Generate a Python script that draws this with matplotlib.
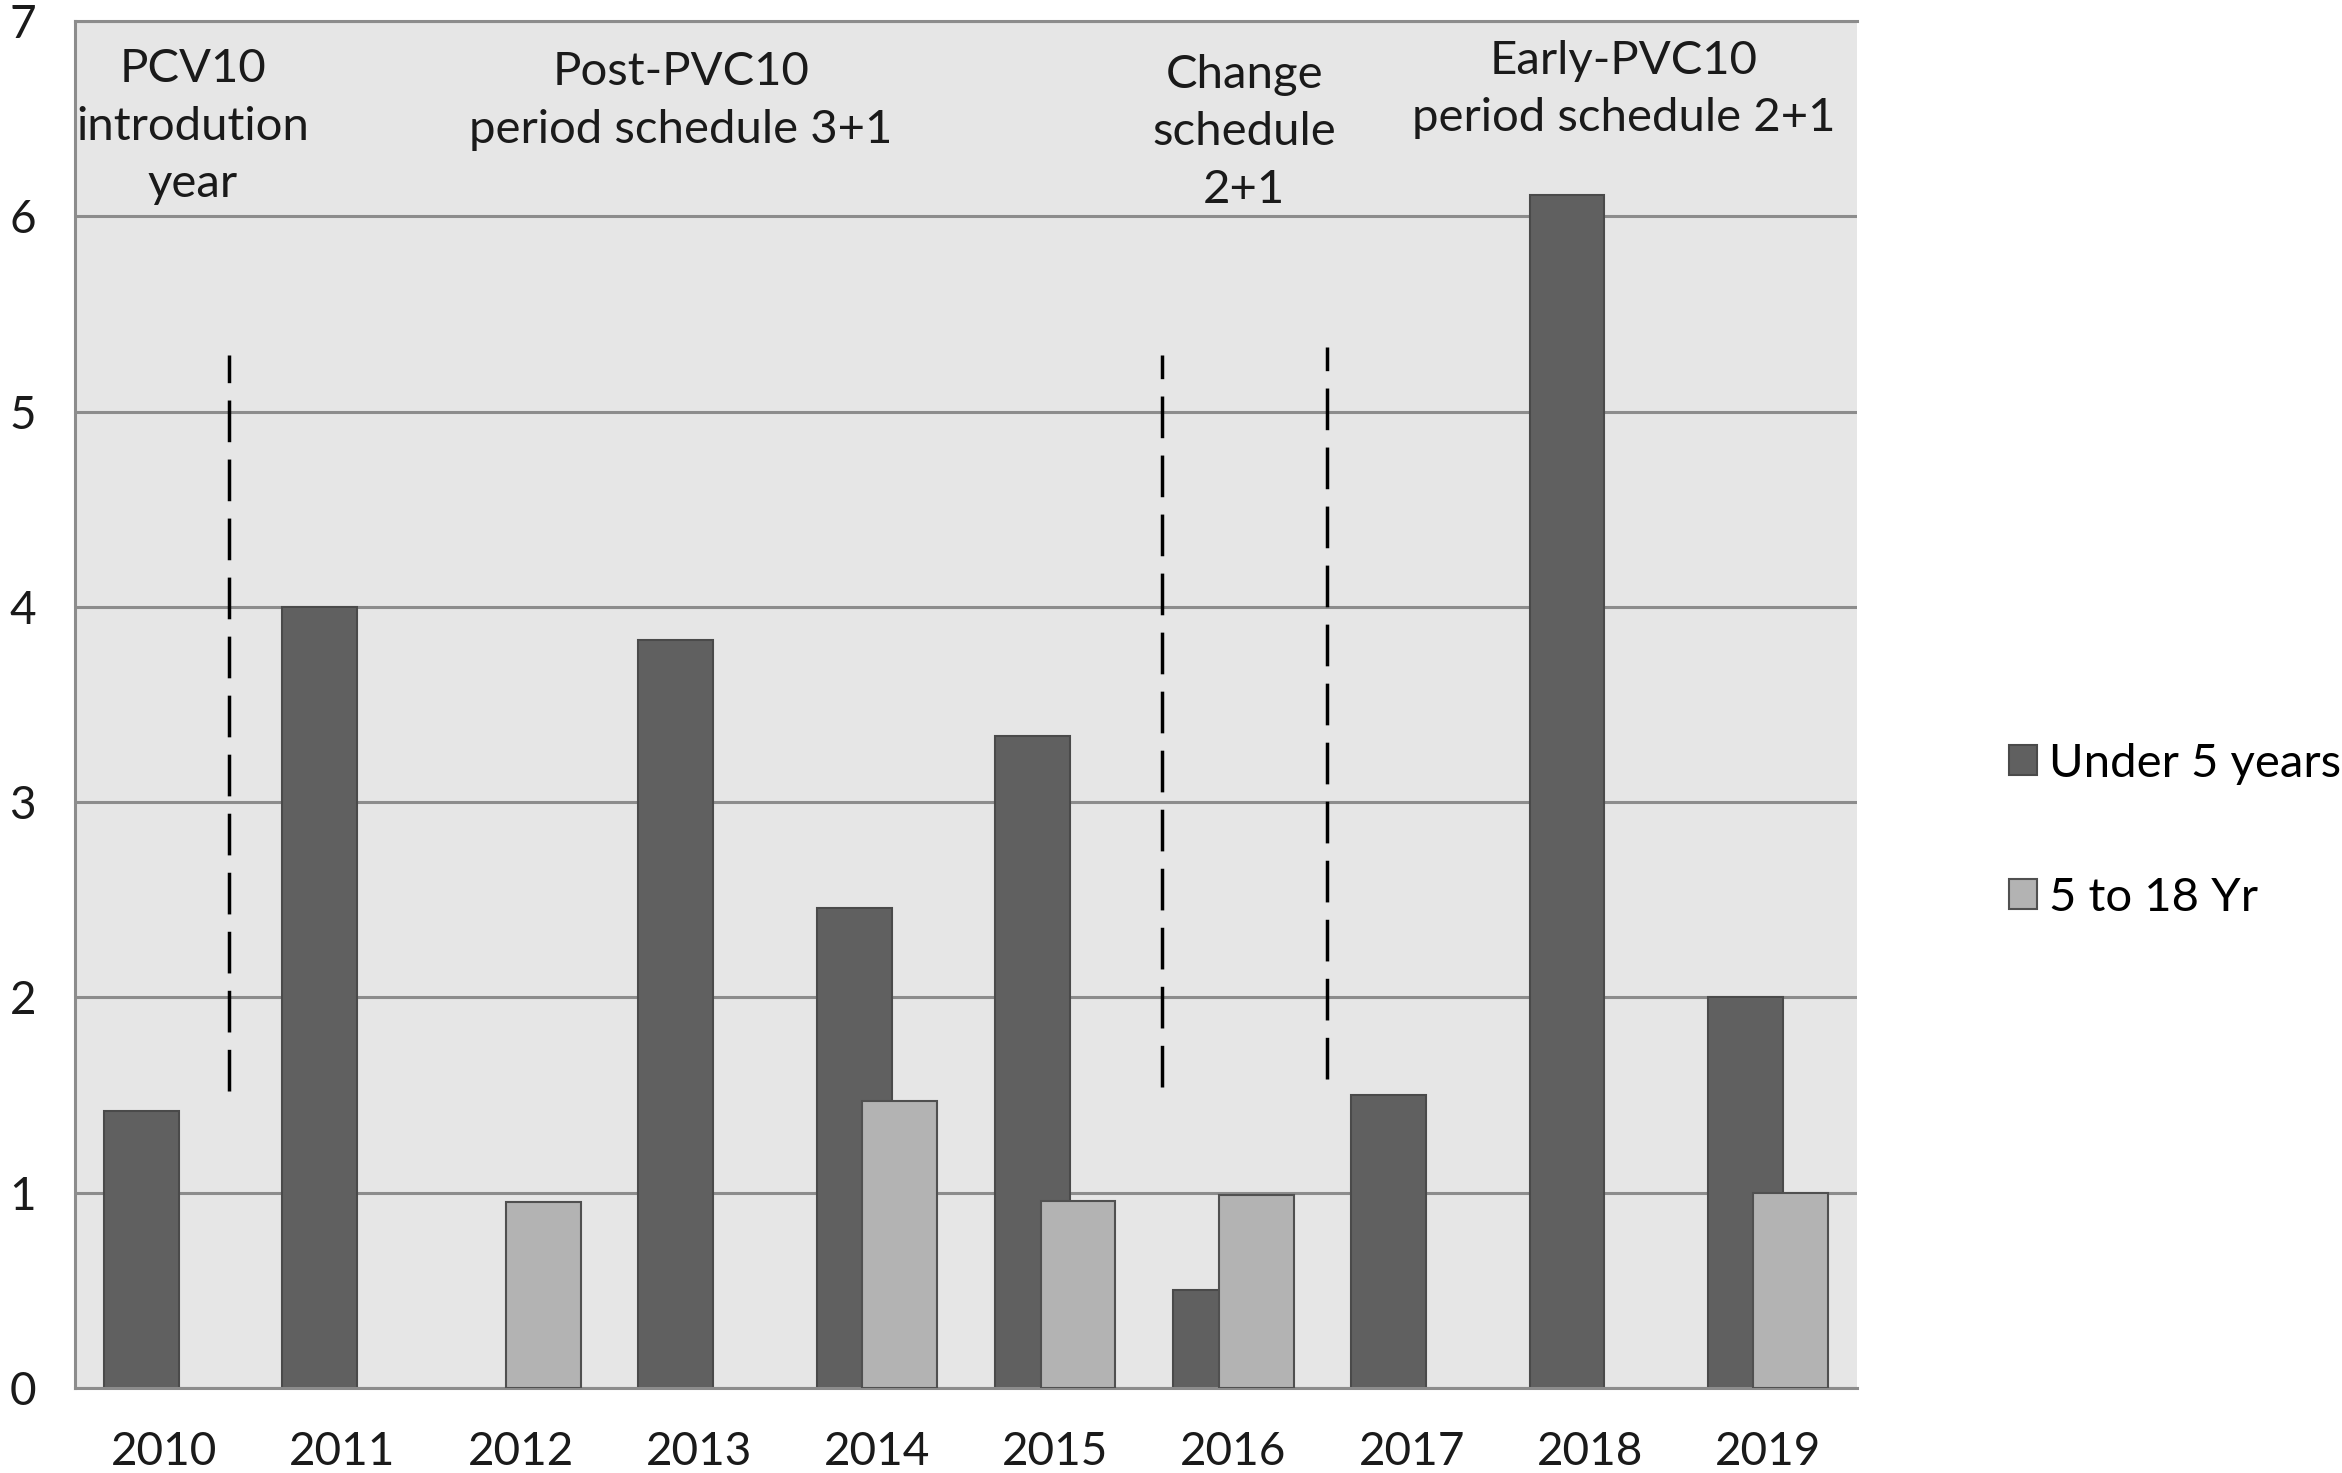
import matplotlib.pyplot as plt
from matplotlib.patches import Patch
import numpy as np

plt.rcParams['font.family'] = ['Lato', 'DejaVu Sans']

years = ['2010', '2011', '2012', '2013', '2014', '2015', '2016', '2017', '2018', '2019']
under5 = [1.42, 4.0, 0, 3.83, 2.46, 3.34, 0.50, 1.50, 6.11, 2.0]
age5_18 = [0, 0, 0.95, 0, 1.47, 0.96, 0.99, 0, 0, 1.0]

# period notes: (x, y, text)
notes = [
    (0.16, 6.46, 'PCV10\nintrodution\nyear'),
    (2.90, 6.59, 'Post-PVC10\nperiod schedule 3+1'),
    (6.06, 6.43, 'Change\nschedule\n2+1'),
    (8.19, 6.65, 'Early-PVC10\nperiod schedule 2+1'),
]
# dashed separators: (x, y bottom, y top)
seps = [(0.364, 1.52, 5.29), (5.60, 1.54, 5.29), (6.525, 1.58, 5.33)]

dark, dark_edge = '#606060', '#4a4a4a'
light, light_edge = '#b3b3b3', '#505050'

fig = plt.figure(figsize=(23.42, 14.73), dpi=100)
ax = fig.add_axes([0.032, 0.0577, 0.761, 0.928])
ax.set_facecolor('#e6e6e6')

x = np.arange(len(years))
w = 0.42
off = 0.128
# skip empty bars so no edge line shows at the baseline
for xi, v in zip(x, under5):
    if v > 0:
        ax.bar(xi - off, v, w, color=dark, edgecolor=dark_edge, linewidth=1.5, zorder=2)
for xi, v in zip(x, age5_18):
    if v > 0:
        ax.bar(xi + off, v, w, color=light, edgecolor=light_edge, linewidth=1.5, zorder=3)

for sx, y0, y1 in seps:
    ax.plot([sx, sx], [y0, y1], color='black', lw=2.5, dashes=(12, 5), zorder=4)

for tx, ty, t in notes:
    ax.text(tx, ty, t, ha='center', va='center', fontsize=34, color='#1a1a1a',
            linespacing=1.45, zorder=5)

ax.set_xlim(-0.5, 9.5)
ax.set_ylim(0, 7)
ax.set_yticks(range(8))
ax.set_xticks(x)
ax.set_xticklabels(years)
ax.yaxis.grid(True, color='#8c8c8c', lw=2.2)
ax.set_axisbelow(True)
ax.tick_params(axis='both', length=0, labelsize=33, colors='#1a1a1a')
ax.tick_params(axis='y', pad=28)
ax.tick_params(axis='x', pad=31)
for s in ['top', 'left', 'bottom']:
    ax.spines[s].set_color('#8c8c8c')
    ax.spines[s].set_linewidth(2.2)
ax.spines['right'].set_visible(False)

handles = [Patch(facecolor=dark, edgecolor=dark_edge, linewidth=1.5, label='Under 5 years'),
           Patch(facecolor=light, edgecolor=light_edge, linewidth=1.5, label='5 to 18 Yr')]
fig.legend(handles=handles, loc='center left', bbox_to_anchor=(0.858, 0.436), frameon=False,
           fontsize=34, labelspacing=1.95, handlelength=0.58, handleheight=0.58,
           handletextpad=0.25, borderpad=0, borderaxespad=0)

fig.savefig('out.png', dpi=100, facecolor='white')
